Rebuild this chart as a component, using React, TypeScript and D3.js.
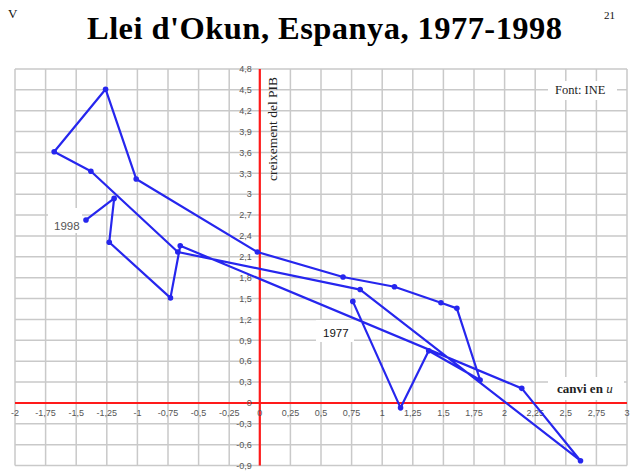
import React from "react";
import * as d3 from "d3";

const years = [1977, 1978, 1979, 1980, 1981, 1982, 1983, 1984, 1985, 1986, 1987, 1988, 1989, 1990, 1991, 1992, 1993, 1994, 1995, 1996, 1997, 1998];
const unemploymentChange = [0.76, 1.15, 1.38, 1.8, 1.61, 1.48, 1.1, 0.68, -0.02, -1.01, -1.26, -1.68, -1.38, -0.67, 0.82, 2.62, 2.14, -0.65, -0.73, -1.23, -1.19, -1.42];
const gdpGrowth = [1.46, -0.07, 0.75, 0.33, 1.36, 1.44, 1.67, 1.81, 2.17, 3.22, 4.51, 3.61, 3.33, 2.17, 1.63, -0.83, 0.21, 2.26, 1.51, 2.31, 2.94, 2.63];

const xTicks = [-2, -1.75, -1.5, -1.25, -1, -0.75, -0.5, -0.25, 0, 0.25, 0.5, 0.75, 1, 1.25, 1.5, 1.75, 2, 2.25, 2.5, 2.75, 3];
const yTicks = [-0.9, -0.6, -0.3, 0, 0.3, 0.6, 0.9, 1.2, 1.5, 1.8, 2.1, 2.4, 2.7, 3, 3.3, 3.6, 3.9, 4.2, 4.5, 4.8];
const fmt = (v: number) => String(+v.toFixed(2)).replace(".", ",");

export default function App() {
  const W = 632, H = 475;
  const x = d3.scaleLinear().domain([-2, 3]).range([15, 627]);
  const y = d3.scaleLinear().domain([-0.9, 4.8]).range([465.6, 69]);
  const pts = years.map((yr, i) => [unemploymentChange[i], gdpGrowth[i]] as [number, number]);
  const line = d3.line<[number, number]>().x(d => x(d[0])).y(d => y(d[1]));
  const blue = "#2626ee";
  const grid = "#c9c9c9";
  const tickCol = "#555";
  const x0 = x(0), y0 = y(0);
  return (
    <svg width={W} height={H} style={{ position: "absolute", left: 0, top: 0, background: "#fff" }}>
      <rect x={0} y={0} width={W} height={H} fill="#fff" />
      <text x={8} y={18} fontFamily="Liberation Serif, serif" fontSize={13} fill="#111">V</text>
      <text x={604} y={19} fontFamily="Liberation Serif, serif" fontSize={11} fill="#111">21</text>
      <text x={324.5} y={39} textAnchor="middle" fontFamily="Liberation Serif, serif" fontWeight="bold" fontSize={32.5} textLength={475} lengthAdjust="spacing" fill="#000">Llei d'Okun, Espanya, 1977-1998</text>
      {xTicks.map(t => (
        <line key={"gx" + t} x1={x(t)} x2={x(t)} y1={y(4.8)} y2={y(-0.9)} stroke={grid} strokeWidth={1.5} />
      ))}
      {yTicks.map(t => (
        <line key={"gy" + t} x1={x(-2)} x2={x(3)} y1={y(t)} y2={y(t)} stroke={grid} strokeWidth={1.5} />
      ))}
      {/* label boxes */}
      <rect x={548} y={81} width={69} height={19} fill="#fff" />
      <rect x={548} y={377} width={76} height={23} fill="#fff" />
      <rect x={48} y={208} width={34} height={25} fill="#fff" />
      <rect x={316} y={320} width={38} height={22} fill="#fff" />
      {/* axes */}
      <line x1={x0} x2={x0} y1={y(4.8)} y2={y(-0.9)} stroke="#ff1a1a" strokeWidth={2.2} />
      <line x1={x(-2)} x2={x(3)} y1={y0} y2={y0} stroke="#ff1a1a" strokeWidth={2.2} />
      {yTicks.map(t => (
        <text key={"ty" + t} x={x0 - 8} y={y(t)} dy="0.35em" textAnchor="end" fontFamily="Liberation Sans, sans-serif" fontSize={9} fill={tickCol}>{fmt(t)}</text>
      ))}
      {xTicks.map(t => (
        <text key={"tx" + t} x={x(t)} y={y0 + 10} dy="0.35em" textAnchor="middle" fontFamily="Liberation Sans, sans-serif" fontSize={9} fill={tickCol}>{fmt(t)}</text>
      ))}
      <text transform={`translate(277,129) rotate(-90)`} textAnchor="middle" fontFamily="Liberation Serif, serif" fontSize={13.5} fill="#222">creixement del PIB</text>
      <text x={557} y={393} fontFamily="Liberation Serif, serif" fontSize={13} fill="#222" fontWeight="bold">canvi en <tspan fontStyle="italic" fontWeight="normal">u</tspan></text>
      <text x={555} y={94} fontFamily="Liberation Serif, serif" fontSize={12.5} fill="#222">Font: INE</text>
      <path d={line(pts) || ""} fill="none" stroke={blue} strokeWidth={2.2} strokeLinejoin="round" />
      {pts.map((p, i) => (
        <circle key={"p" + years[i]} cx={x(p[0])} cy={y(p[1])} r={2.8} fill={blue} />
      ))}
      <text x={54} y={229.5} fontFamily="Liberation Sans, sans-serif" fontSize={11.5} fill="#555">{years[years.length - 1]}</text>
      <text x={323} y={336.5} fontFamily="Liberation Sans, sans-serif" fontSize={11.5} fill="#111">{years[0]}</text>
    </svg>
  );
}
